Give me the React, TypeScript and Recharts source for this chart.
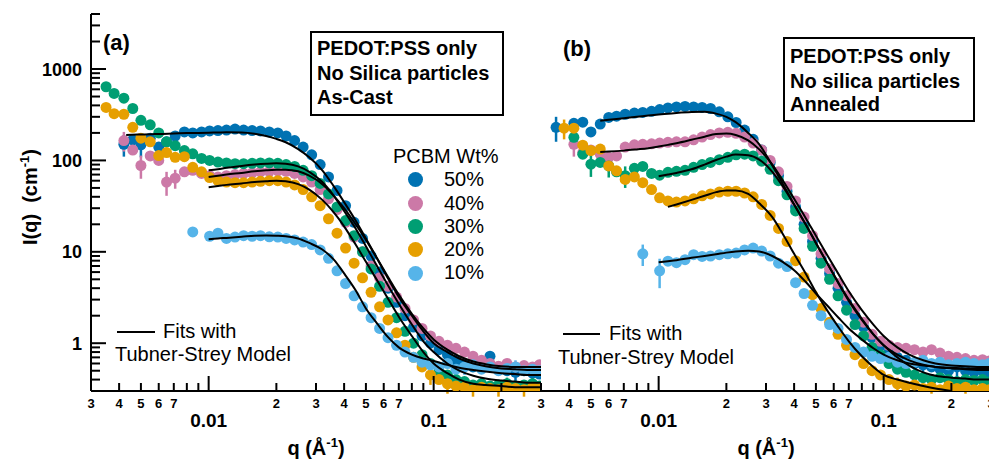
import { ScatterChart, Scatter, XAxis, YAxis, ErrorBar, Legend, Customized } from "recharts";

const FONT = '"Liberation Sans", Arial, Helvetica, sans-serif';

const C50 = "#0072B2";
const C40 = "#CC79A7";
const C30 = "#009E73";
const C20 = "#E69F00";
const C10 = "#56B4E9";

const legendOrder = ["50%", "40%", "30%", "20%", "10%"];

// q grid shared by the measured curves (1/Å)
const qGrid = [
  0.0035, 0.0038, 0.0042, 0.0046, 0.005, 0.0055, 0.006, 0.0065, 0.0071, 0.0078,
  0.0085, 0.0093, 0.0101, 0.011, 0.012, 0.0131, 0.0143, 0.0156, 0.017, 0.0186,
  0.0203, 0.0221, 0.0241, 0.0263, 0.0287, 0.0313, 0.0341, 0.0372, 0.0406, 0.0443,
  0.0483, 0.0527, 0.0575, 0.0627, 0.0684, 0.0746, 0.0814, 0.0888, 0.0968, 0.1056,
  0.1152, 0.1257, 0.1371, 0.1496, 0.1632, 0.178, 0.1942, 0.2118, 0.2311, 0.2521,
  0.275, 0.295,
];

// (a) as-cast
const a50 = [null, null, 150, 168, 148, 175, 140, 160, 185, 205, 200, 205, 210, 212, 215, 220, 215, 212, 210, 205, 200, 185, 165, 140, 115, 90, 66, 47, 32, 21, 14, 9, 6, 4, 2.8, 2.0, 1.5, 1.2, 1.0, 0.85, 0.75, 0.65, 0.6, 0.55, 0.6, 0.72, 0.55, 0.5, 0.48, 0.5, 0.47, 0.46];
const a40 = [null, null, 165, 130, 88, 112, 100, 58, 64, 75, 78, 72, 68, 66, 68, 70, 72, 73, 75, 76, 77, 76, 72, 66, 58, 48, 38, 29, 21, 14.5, 10, 7, 5.2, 4.2, 3.2, 2.4, 1.8, 1.45, 1.2, 1.05, 0.95, 0.88, 0.8, 0.72, 0.65, 0.6, 0.56, 0.6, 0.55, 0.57, 0.55, 0.58];
const a30 = [640, 540, 480, 370, 275, 245, 200, 160, 145, 128, 118, 105, 100, 96, 94, 92, 92, 93, 94, 94, 93, 90, 86, 78, 68, 56, 43, 31, 22, 15, 10, 6.5, 4.2, 2.8, 1.9, 1.35, 1.0, 0.75, 0.6, 0.5, 0.45, 0.4, 0.38, 0.35, 0.36, 0.34, 0.35, 0.36, 0.34, 0.35, 0.36, 0.34];
const a20 = [380, 325, 320, 230, 175, 160, 113, 122, 108, 110, 84, 75, 65, 60, 58, 57, 57, 58, 59, 60, 60, 58, 54, 48, 40, 32, 23, 16, 11, 7.5, 5.2, 3.6, 2.5, 1.8, 1.3, 0.95, 0.7, 0.55, 0.45, 0.4, 0.36, 0.34, 0.33, 0.31, 0.33, 0.32, 0.31, 0.33, 0.32, 0.31, 0.33, 0.32];
const a10 = [null, null, null, null, null, null, null, null, null, null, 16.5, null, 14.8, 16, 14, 14.5, 15, 14.8, 15, 14.6, 14.5, 14, 13.5, 12.8, 12, 10.5, 8.5, 6.2, 4.5, 3.3, 2.5, 1.9, 1.45, 1.15, 0.95, 0.8, 0.7, 0.62, 0.58, 0.55, 0.6, 0.52, 0.55, 0.58, 0.52, 0.55, 0.5, 0.53, 0.55, 0.5, 0.52, 0.5];

// (b) annealed
const b50 = [230, null, 255, 262, 205, 250, 295, 305, 320, 330, 335, 345, 360, 375, 385, 390, 385, 380, 370, 340, 300, 260, 215, 170, 130, 95, 68, 46, 31, 20, 13, 8.5, 5.8, 4.0, 2.8, 2.0, 1.5, 1.15, 0.95, 0.8, 0.7, 0.65, 0.6, 0.58, 0.55, 0.52, 0.5, 0.55, 0.5, 0.48, 0.5, 0.48];
const b40 = [null, null, 150, 122, 130, 117, 108, 112, 140, 148, 150, 152, 155, 158, 160, 160, 168, 180, 192, 200, 203, 198, 180, 155, 130, 100, 75, 52, 36, 24, 15, 9.5, 6.5, 4.5, 3.3, 2.4, 1.7, 1.25, 1.05, 0.95, 0.9, 0.88, 0.85, 0.8, 0.85, 0.78, 0.72, 0.7, 0.68, 0.65, 0.66, 0.64];
const b30 = [null, null, 179, 117, 91, 95, 87, 75, 68, 82, 86, 72, 69, 74, 76, 78, 84, 90, 95, 102, 108, 115, 117, 112, 98, 80, 60, 42, 28, 18, 11.5, 7.5, 5, 3.3, 2.3, 1.6, 1.2, 0.9, 0.75, 0.6, 0.52, 0.48, 0.45, 0.42, 0.4, 0.42, 0.4, 0.38, 0.4, 0.39, 0.4, 0.38];
const b20 = [null, 225, 225, 147, 128, 133, 87, 77, 62, 66, 57, 48, 39, 36, 35, 36, 38, 41, 43, 45, 46, 46, 44, 40, 33, 25, 18, 13, 8, 5.3, 3.4, 2.4, 1.7, 1.25, 0.95, 0.75, 0.6, 0.5, 0.45, 0.4, 0.36, 0.34, 0.35, 0.32, 0.33, 0.31, 0.34, 0.32, 0.33, 0.31, 0.32, 0.31];
const b10 = [null, null, null, null, null, null, null, null, null, null, 9.5, null, 6.2, 7.9, 7.6, 8.2, 9.3, 8.9, 9.0, 9.3, 9.5, 9.7, 10.5, 11, 10.2, 9, 7.5, 6.9, 4.6, 3.5, 2.6, 2.0, 1.6, 1.45, 1.1, 0.9, 0.8, 0.72, 0.68, 0.7, 0.62, 0.6, 0.62, 0.65, 0.6, 0.62, 0.58, 0.6, 0.62, 0.6, 0.58, 0.6];

// error bars [q, ±err]
const errA50: [number, number][] = [[0.0042, 40], [0.005, 40], [0.1632, 0.12], [0.2311, 0.1]];
const errA40: [number, number][] = [[0.0042, 40], [0.005, 25], [0.0065, 17], [0.0071, 15]];
const errA30: [number, number][] = [[0.1257, 0.08], [0.1632, 0.06], [0.2118, 0.06], [0.275, 0.06]];
const errA20: [number, number][] = [[0.0968, 0.1], [0.1152, 0.08], [0.1496, 0.05], [0.1942, 0.05], [0.2521, 0.05]];
const errA10: [number, number][] = [[0.1371, 0.1], [0.2311, 0.1]];
const errB50: [number, number][] = [[0.0035, 70], [0.1496, 0.12], [0.2118, 0.12]];
const errB40: [number, number][] = [[0.0042, 40]];
const errB30: [number, number][] = [[0.005, 25], [0.006, 22], [0.0071, 18], [0.1371, 0.08], [0.1942, 0.07]];
const errB20: [number, number][] = [[0.0038, 55], [0.1152, 0.06], [0.1632, 0.05], [0.2311, 0.05]];
const errB10: [number, number][] = [[0.0085, 2.5], [0.0101, 2.2]];

// Teubner-Strey fits
const fitQ = [
  0.0043, 0.005, 0.0055, 0.006, 0.007, 0.008, 0.009, 0.01, 0.011, 0.012,
  0.014, 0.016, 0.018, 0.02, 0.022, 0.025, 0.028, 0.032, 0.036, 0.04,
  0.045, 0.05, 0.056, 0.063, 0.07, 0.08, 0.09, 0.1, 0.115, 0.13,
  0.15, 0.17, 0.2, 0.23, 0.26, 0.3,
];
const N7 = [null, null, null, null, null, null, null];
const fitA50 = [190, 192, 193, 195, 197, 199, 200, 201, 202, 203, 202, 196, 185, 172, 158, 133, 108, 78, 52, 35, 22, 14, 8.5, 5.0, 3.2, 2.0, 1.35, 1.0, 0.8, 0.68, 0.6, 0.56, 0.53, 0.52, 0.51, 0.51];
const fitA40 = [...N7, 66, 68, 70, 73, 76, 78, 79, 79, 76, 68, 55, 41, 30, 20, 13.5, 8.5, 5.2, 3.4, 2.1, 1.45, 1.1, 0.85, 0.72, 0.63, 0.59, 0.56, 0.55, 0.55, 0.55];
const fitA30 = [...N7, 78, 80, 83, 87, 90, 92, 93, 92, 86, 75, 58, 41, 28, 18, 11.5, 7, 4.2, 2.7, 1.6, 1.05, 0.8, 0.6, 0.5, 0.44, 0.41, 0.39, 0.38, 0.37, 0.37];
const fitA20 = [...N7, 51, 52.5, 54, 56, 58, 59, 60, 59, 55, 48, 37, 27, 19, 12, 7.8, 4.9, 3.0, 1.95, 1.2, 0.8, 0.6, 0.47, 0.4, 0.36, 0.35, 0.34, 0.33, 0.33, 0.33];
const fitA10 = [...N7, 13.7, 14, 14.2, 14.6, 15, 15.1, 15, 14.8, 14, 12.5, 10.6, 8.2, 5.8, 3.8, 2.4, 1.65, 1.15, 0.9, 0.75, 0.68, 0.64, 0.58, 0.54, 0.51, 0.49, 0.47, 0.46, 0.45, 0.45];
const fitB50 = [null, null, 272, 278, 290, 300, 310, 318, 324, 330, 338, 340, 325, 300, 262, 200, 150, 88, 53, 33, 20, 12.5, 7.6, 4.5, 2.9, 1.8, 1.25, 0.95, 0.75, 0.65, 0.58, 0.55, 0.53, 0.52, 0.51, 0.51];
const fitB40 = [null, null, 124, 125, 128, 132, 136, 142, 148, 154, 168, 182, 194, 197, 190, 166, 132, 90, 58, 38, 23.5, 15, 9.3, 5.7, 3.7, 2.3, 1.6, 1.2, 0.9, 0.75, 0.65, 0.6, 0.57, 0.56, 0.55, 0.55];
const fitB30 = [...N7, 67, 70, 73, 80, 90, 101, 110, 116, 114, 102, 75, 50, 33, 20, 12.5, 7.6, 4.6, 3.0, 1.85, 1.25, 0.95, 0.7, 0.57, 0.48, 0.44, 0.42, 0.41, 0.4, 0.4];
const fitB20 = [...N7, null, 31, 33, 37, 41, 45, 47, 47, 43, 34, 24, 15, 9.5, 5.8, 3.6, 2.3, 1.5, 1.05, 0.72, 0.55, 0.45, 0.4, 0.37, 0.34, 0.32, 0.3, null, null, null];
const fitB10 = [...N7, 7.7, 7.9, 8.1, 8.6, 9.0, 9.4, 9.8, 10.1, 10.3, 10.1, 9.0, 7.6, 6.3, 4.7, 3.5, 2.6, 1.9, 1.45, 1.1, 0.88, 0.75, 0.65, 0.6, 0.57, 0.55, 0.54, 0.53, 0.53, 0.53];

const xTicks = [0.003, 0.004, 0.005, 0.006, 0.007, 0.008, 0.009, 0.01, 0.02, 0.03, 0.04, 0.05, 0.06, 0.07, 0.08, 0.09, 0.1, 0.2, 0.3];
const yTicks = [
  0.3, 0.4, 0.5, 0.6, 0.7, 0.8, 0.9, 1, 2, 3, 4, 5, 6, 7, 8, 9,
  10, 20, 30, 40, 50, 60, 70, 80, 90, 100, 200, 300, 400, 500, 600, 700, 800, 900,
  1000, 2000, 3000, 4000,
];
const X_DOMAIN = [0.003, 0.3];
const Y_DOMAIN = [0.3, 4000];

type Pt = { q: number; I: number; e: number };

function points(vals: (number | null)[], errs: [number, number][]): Pt[] {
  const out: Pt[] = [];
  qGrid.forEach((q, i) => {
    const I = vals[i];
    if (I == null) return;
    const hit = errs.find(([eq]) => eq === q);
    out.push({ q, I, e: hit ? hit[1] : 0 });
  });
  return out;
}

function fitLine(vals: (number | null)[]) {
  return fitQ.map((q, i) => ({ q, I: vals[i] })).filter((p) => p.I != null);
}

const panelA = [
  { name: "50%", color: C50, pts: points(a50, errA50), fit: fitLine(fitA50) },
  { name: "40%", color: C40, pts: points(a40, errA40), fit: fitLine(fitA40) },
  { name: "30%", color: C30, pts: points(a30, errA30), fit: fitLine(fitA30) },
  { name: "20%", color: C20, pts: points(a20, errA20), fit: fitLine(fitA20) },
  { name: "10%", color: C10, pts: points(a10, errA10), fit: fitLine(fitA10) },
];
const panelB = [
  { name: "50%", color: C50, pts: points(b50, errB50), fit: fitLine(fitB50) },
  { name: "40%", color: C40, pts: points(b40, errB40), fit: fitLine(fitB40) },
  { name: "30%", color: C30, pts: points(b30, errB30), fit: fitLine(fitB30) },
  { name: "20%", color: C20, pts: points(b20, errB20), fit: fitLine(fitB20) },
  { name: "10%", color: C10, pts: points(b10, errB10), fit: fitLine(fitB10) },
];

const isDecade = (v: number) => Math.abs(Math.log10(v) - Math.round(Math.log10(v))) < 1e-6;
const lead = (v: number) => Math.round(v / Math.pow(10, Math.floor(Math.log10(v) + 1e-9)));

function BottomTick(props: any) {
  const { x, y, payload, skipFirst } = props;
  const v = payload.value;
  const dec = isDecade(v);
  const d = lead(v);
  let label = null;
  if (dec) {
    label = (
      <text x={x} y={y + 36} textAnchor="middle" fontSize={19} fontWeight="bold" fontFamily={FONT} fill="#000">
        {String(v)}
      </text>
    );
  } else if (d <= 7 && !(skipFirst && v === 0.003)) {
    label = (
      <text x={x} y={y + 17} textAnchor="middle" fontSize={13} fontWeight="bold" fontFamily={FONT} fill="#000">
        {d}
      </text>
    );
  }
  return (
    <g>
      <line x1={x} x2={x} y1={y} y2={y - (dec ? 15 : 8)} stroke="#000" strokeWidth={2} />
      {label}
    </g>
  );
}

function TopTick(props: any) {
  const { x, y, payload } = props;
  const len = isDecade(payload.value) ? 15 : 8;
  return <line x1={x} x2={x} y1={y} y2={y + len} stroke="#000" strokeWidth={2} />;
}

function LeftTick(props: any) {
  const { x, y, payload, showLabels } = props;
  const v = payload.value;
  const dec = isDecade(v);
  return (
    <g>
      <line x1={x} x2={x + (dec ? 15 : 9)} y1={y} y2={y} stroke="#000" strokeWidth={2} />
      {showLabels && dec ? (
        <text x={x - 9} y={y + 6.5} textAnchor="end" fontSize={18} fontWeight="bold" fontFamily={FONT} fill="#000">
          {String(v)}
        </text>
      ) : null}
    </g>
  );
}

function RightTick(props: any) {
  const { x, y, payload } = props;
  const len = isDecade(payload.value) ? 15 : 9;
  return <line x1={x} x2={x - len} y1={y} y2={y} stroke="#000" strokeWidth={2} />;
}

const AXIS_LINE = { stroke: "#000", strokeWidth: 2 };

function axes(leftWidth: number, showLabels: boolean, skipFirst: boolean) {
  return [
    <XAxis
      key="xb"
      xAxisId="b"
      dataKey="q"
      type="number"
      scale="log"
      domain={X_DOMAIN}
      allowDataOverflow
      ticks={xTicks}
      interval={0}
      height={70}
      tickSize={0}
      tickMargin={0}
      tickLine={false}
      axisLine={AXIS_LINE}
      tick={(p: any) => <BottomTick {...p} skipFirst={skipFirst} />}
    />,
    <XAxis
      key="xt"
      xAxisId="t"
      orientation="top"
      type="number"
      scale="log"
      domain={X_DOMAIN}
      allowDataOverflow
      ticks={xTicks}
      interval={0}
      height={0}
      tickSize={0}
      tickMargin={0}
      tickLine={false}
      axisLine={AXIS_LINE}
      tick={(p: any) => <TopTick {...p} />}
    />,
    <YAxis
      key="yl"
      yAxisId="l"
      dataKey="I"
      type="number"
      scale="log"
      domain={Y_DOMAIN}
      allowDataOverflow
      ticks={yTicks}
      interval={0}
      width={leftWidth}
      tickSize={0}
      tickMargin={0}
      tickLine={false}
      axisLine={AXIS_LINE}
      tick={(p: any) => <LeftTick {...p} showLabels={showLabels} />}
    />,
    <YAxis
      key="yr"
      yAxisId="r"
      orientation="right"
      type="number"
      scale="log"
      domain={Y_DOMAIN}
      allowDataOverflow
      ticks={yTicks}
      interval={0}
      width={0}
      tickSize={0}
      tickMargin={0}
      tickLine={false}
      axisLine={AXIS_LINE}
      tick={(p: any) => <RightTick {...p} />}
    />,
  ];
}

function series(panel: typeof panelA, tag: string) {
  const dots = panel.map((s) => (
    <Scatter
      key={tag + "d" + s.name}
      name={s.name}
      data={s.pts}
      xAxisId="b"
      yAxisId="l"
      fill={s.color}
      isAnimationActive={false}
      shape={(p: any) => <circle cx={p.cx} cy={p.cy} r={5.5} fill={s.color} />}
    >
      <ErrorBar dataKey="e" direction="y" width={0} stroke={s.color} strokeWidth={2.5} />
    </Scatter>
  ));
  const fits = panel.map((s) => (
    <Scatter
      key={tag + "f" + s.name}
      name={"fit " + s.name}
      data={s.fit}
      xAxisId="b"
      yAxisId="l"
      fill="none"
      legendType="none"
      isAnimationActive={false}
      line={{ stroke: "#000", strokeWidth: 2 }}
      lineJointType="monotoneX"
      shape={() => <g />}
    />
  ));
  return [...dots, ...fits];
}

function PcbmLegend(props: any) {
  const items = (props.payload ?? [])
    .filter((e: any) => e.type !== "none" && legendOrder.indexOf(String(e.value)) >= 0)
    .slice()
    .sort((p: any, q: any) => legendOrder.indexOf(String(p.value)) - legendOrder.indexOf(String(q.value)));
  return (
    <div style={{ fontFamily: FONT, fontSize: 20, lineHeight: "23.3px", color: "#000" }}>
      <div>PCBM Wt%</div>
      {items.map((e: any) => (
        <div key={e.value} style={{ display: "flex", alignItems: "center", height: 23.3 }}>
          <svg width={15} height={15} style={{ marginLeft: 15 }}>
            <circle cx={7.5} cy={7.5} r={7.5} fill={e.color} />
          </svg>
          <span style={{ marginLeft: 21 }}>{e.value}</span>
        </div>
      ))}
    </div>
  );
}

function XTitle({ cx }: { cx: number }) {
  return (
    <text x={cx} y={455} textAnchor="middle" fontSize={20} fontWeight="bold" fontFamily={FONT} fill="#000">
      q (Å
      <tspan dy={-8} fontSize={13}>-1</tspan>
      <tspan dy={8}>)</tspan>
    </text>
  );
}

function NotesA() {
  return (
    <g fontFamily={FONT} fill="#000">
      <text x={103} y={50} fontSize={22} fontWeight="bold">(a)</text>
      <rect x={311} y={32} width={192} height={83} fill="#fff" stroke="#000" strokeWidth={2} />
      <text x={317} y={55} fontSize={20} fontWeight="bold">PEDOT:PSS only</text>
      <text x={317} y={80} fontSize={20} fontWeight="bold">No Silica particles</text>
      <text x={317} y={104} fontSize={20} fontWeight="bold">As-Cast</text>
      <line x1={117} x2={155} y1={332} y2={332} stroke="#000" strokeWidth={2} />
      <text x={163} y={338} fontSize={20}>Fits with</text>
      <text x={115} y={361} fontSize={20}>Tubner-Strey Model</text>
      <XTitle cx={316} />
      <text transform="rotate(-90)" x={-197} y={37} textAnchor="middle" fontSize={20} fontWeight="bold">
        {"I(q)\u00a0\u00a0(cm"}
        <tspan dy={-8} fontSize={13}>-1</tspan>
        <tspan dy={8}>)</tspan>
      </text>
    </g>
  );
}

function NotesB() {
  return (
    <g fontFamily={FONT} fill="#000">
      <text x={22} y={56} fontSize={22} fontWeight="bold">(b)</text>
      <rect x={243} y={38} width={190} height={83} fill="#fff" stroke="#000" strokeWidth={2} />
      <text x={249} y={63} fontSize={20} fontWeight="bold">PEDOT:PSS only</text>
      <text x={249} y={87.5} fontSize={20} fontWeight="bold">No silica particles</text>
      <text x={249} y={111} fontSize={20} fontWeight="bold">Annealed</text>
      <line x1={22} x2={59} y1={334} y2={334} stroke="#000" strokeWidth={2} />
      <text x={68} y={340} fontSize={20}>Fits with</text>
      <text x={17} y={364} fontSize={20}>Tubner-Strey Model</text>
      <XTitle cx={225} />
    </g>
  );
}

export default function App() {
  return (
    <div
      style={{
        position: "absolute",
        left: 0,
        top: 0,
        width: 989,
        height: 461,
        overflow: "hidden",
        background: "#fff",
        fontFamily: FONT,
      }}
    >
      <div style={{ position: "absolute", left: 0, top: 0 }}>
        <ScatterChart width={545} height={461} margin={{ top: 14, right: 4, bottom: 0, left: 0 }}>
          {axes(91, true, false)}
          {series(panelA, "a")}
          <Legend
            layout="vertical"
            align="center"
            verticalAlign="middle"
            wrapperStyle={{ left: 393, top: 145, width: 120 }}
            content={(p: any) => <PcbmLegend {...p} />}
          />
          <Customized component={NotesA} />
        </ScatterChart>
      </div>
      <div style={{ position: "absolute", left: 541, top: 0 }}>
        <ScatterChart width={450} height={461} margin={{ top: 14, right: 0, bottom: 0, left: 0 }}>
          {axes(0, false, true)}
          {series(panelB, "b")}
          <Customized component={NotesB} />
        </ScatterChart>
      </div>
    </div>
  );
}
